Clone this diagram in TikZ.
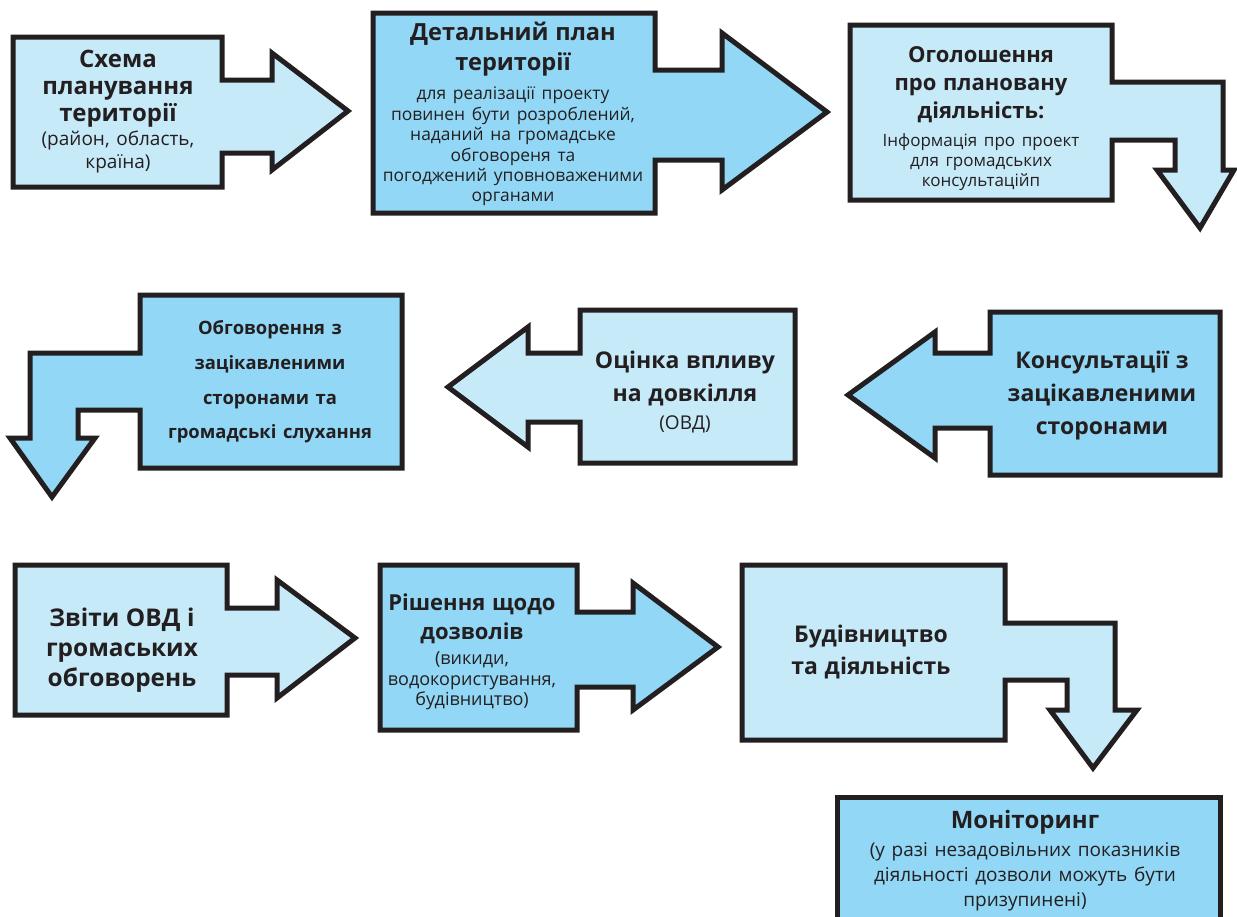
\documentclass[tikz,border=0pt]{standalone}
\usepackage{fontspec}
\setmainfont{Open Sans}
\usetikzlibrary{positioning}
\definecolor{lightblue}{RGB}{199,234,249}
\definecolor{darkblue}{RGB}{146,215,245}
\definecolor{outline}{RGB}{35,31,32}

\newcommand{\fs}[2]{\fontsize{#1}{#2}\selectfont}

\tikzset{
  lightblock/.style={fill=lightblue, draw=outline, line width=2.5pt},
  darkblock/.style={fill=darkblue, draw=outline, line width=2.5pt},
  blocktext/.style={align=center, text=outline, inner sep=0pt, text width=#1},
  blocktext/.default=130pt
}

\begin{document}
\begin{tikzpicture}[x=0.5pt, y=-0.5pt]
			\useasboundingbox (0,0) rectangle (1237,916);
			\clip (0,0) rectangle (1237,916);

			% Top row
			\draw[lightblock] (13,37) -- (222,37) -- (222,80) -- (272,80) -- (272,53) -- (348,111)
				-- (272,170) -- (272,153) -- (222,153) -- (222,187) -- (13,187) -- cycle;
			\draw[darkblock] (373,13) -- (655,13) -- (655,70) -- (722,70) -- (722,33) -- (827,112)
				-- (722,190) -- (722,160) -- (655,160) -- (655,213) -- (373,213) -- cycle;
			\draw[lightblock] (850,25) -- (1112,25) -- (1112,82) -- (1223,82) -- (1223,170) -- (1234,170)
				-- (1200,228) -- (1157,170) -- (1175,170) -- (1175,140) -- (1112,140) -- (1112,200) -- (850,200) -- cycle;

			\node[blocktext=100pt] (schema) at (118,112) {\fs{12}{13.5}\bfseries Схема\\ планування\\ території\par
				\vspace{0.5pt}\fs{9.5}{11.5}\mdseries (район, область,\\ країна)\par};
			\node[blocktext=150pt] (detail) at (513,114) {\fs{11.8}{15}\bfseries Детальний план\\ території\par
				\vspace{4.5pt}\fs{8.7}{10.2}\mdseries для реалізації проекту\\ повинен бути розроблений,\\ наданий на громадське\\
				обговореня та\\ погоджений уповноваженими\\ органами\par};
			\node[blocktext=125pt] (announce) at (981,119) {\fs{11}{14}\bfseries Оголошення\\ про плановану\\ діяльність:\par
				\vspace{4pt}\fs{8.5}{10}\mdseries Інформація про проект\\ для громадських\\ консультаційп\par};

			% Middle row
			\draw[darkblock] (140,295) -- (402,295) -- (402,468) -- (140,468) -- (140,410) -- (78,410) -- (78,438)
				-- (95,438) -- (52,497) -- (10,438) -- (30,438) -- (30,353) -- (140,353) -- cycle;
			\draw[lightblock] (580,310) -- (795,310) -- (795,463) -- (580,463) -- (580,422) -- (528,422)
				-- (528,447) -- (448,387) -- (528,327) -- (528,353) -- (580,353) -- cycle;
			\draw[darkblock] (990,312) -- (1220,312) -- (1220,475) -- (990,475) -- (990,428) -- (935,428)
				-- (935,458) -- (848,395) -- (935,332) -- (935,353) -- (990,353) -- cycle;

			\node[blocktext=125pt] (hearing) at (270,382) {\fs{9.2}{17.3}\bfseries Обговорення з\\ зацікавленими\\
				сторонами та\\ громадські слухання\par};
			\node[blocktext=105pt] (impact) at (685,392) {\fs{11.5}{16.5}\bfseries Оцінка впливу\\ на довкілля\par
				\vspace{3pt}\fs{9.5}{11}\mdseries (ОВД)\par};
			\node[blocktext=110pt] (consult) at (1102,396) {\fs{11.5}{16.5}\bfseries Консультації з\\ зацікавленими\\ сторонами\par};

			% Bottom row
			\draw[lightblock] (15,565) -- (227,565) -- (227,608) -- (277,608) -- (277,580) -- (355,638)
				-- (277,698) -- (277,675) -- (227,675) -- (227,715) -- (15,715) -- cycle;
			\draw[darkblock] (380,565) -- (577,565) -- (577,612) -- (633,612) -- (633,583) -- (718,647)
				-- (633,710) -- (633,687) -- (577,687) -- (577,730) -- (380,730) -- cycle;
			\draw[lightblock] (742,565) -- (1005,565) -- (1005,623) -- (1115,623) -- (1115,710) -- (1137,710)
				-- (1093,768) -- (1050,710) -- (1067,710) -- (1067,680) -- (1005,680) -- (1005,740) -- (742,740) -- cycle;

			\node[blocktext=100pt] (reports) at (122,650) {\fs{12.2}{15}\bfseries Звіти ОВД і\\ громаських\\ обговорень\par};
			\node[blocktext=95pt] (decision) at (472,652) {\fs{11}{14.5}\bfseries Рішення щодо\\ дозволів\par
				\vspace{2.3pt}\fs{9}{10.2}\mdseries (викиди,\\ водокористування,\\ будівництво)\par};
			\node[blocktext=120pt] (build) at (871,652) {\fs{11.5}{16}\bfseries Будівництво\\ та діяльність\par};

			% Monitoring
			\draw[darkblock] (837,797) -- (1220,797) -- (1220,930) -- (837,930) -- cycle;
			\node[blocktext=185pt] (monitor) at (1025,861) {\fs{12}{14}\bfseries Моніторинг\par
				\vspace{1.5pt}\fs{9.5}{12.5}\mdseries (у разі незадовільних показників\\ діяльності дозволи можуть бути\\ призупинені)\par};
		\end{tikzpicture}
\end{document}
